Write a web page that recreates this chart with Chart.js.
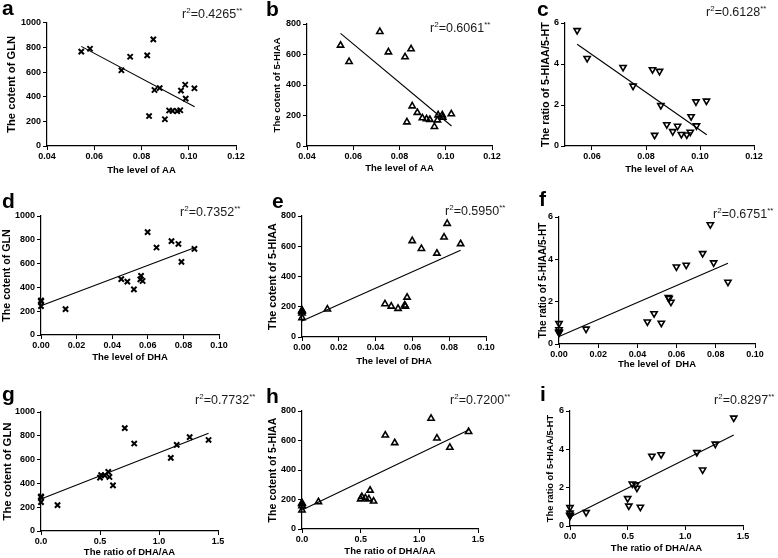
<!DOCTYPE html>
<html>
<head>
<meta charset="utf-8">
<script src="https://cdn.jsdelivr.net/npm/chart.js@4.4.1/dist/chart.umd.min.js"></script>
<style>
  body { margin: 0; background: #fff; width: 778px; height: 558px; position: relative; overflow: hidden;
         font-family: "Liberation Sans", Arial, sans-serif; }
  canvas { position: absolute; }
  .letter { position: absolute; font-weight: bold; font-size: 21px; line-height: 1; color: #000; }
  .r2 { position: absolute; font-size: 12.5px; line-height: 1; color: #1a1a1a; white-space: nowrap; }
  .r2 sup { font-size: 8px; line-height: 0; vertical-align: 5px; }
</style>
</head>
<body>
<script>
// one entry per sample (18 samples)
const AA     = [0.0545, 0.0582, 0.0715, 0.0752, 0.0824, 0.0832, 0.0850, 0.0855, 0.0877, 0.0899, 0.0917, 0.0931, 0.0951, 0.0964, 0.0967, 0.0985, 0.0987, 0.1024];
const DHA    = [0.0772, 0.0733, 0.0789, 0.0862, 0.0649, 0, 0.0599, 0.0571, 0.0451, 0.0138, 0, 0, 0, 0, 0.0485, 0.0562, 0.0522, 0.0558];
const DHA_AA = [1.42, 1.26, 1.10, 1.15, 0.79, 0, 0.71, 0.58, 0.51, 0.14, 0, 0, 0, 0, 0.50, 0.57, 0.61, 0.54];
const GLN    = [765, 789, 614, 724, 735, 243, 865, 454, 470, 217, 288, 285, 283, 290, 449, 497, 384, 468];
const HIAA   = [660, 553, 750, 616, 584, 157, 636, 262, 219, 184, 177, 173, 127, 170, 203, 203, 188, 210];
const RATIO  = [5.64, 4.28, 3.84, 2.93, 3.73, 0.53, 3.65, 1.98, 1.05, 0.71, 0.97, 0.57, 0.55, 0.68, 1.44, 2.16, 0.99, 2.20];

// regression line ends
const FIT_X_AA = [0.0545, 0.1025];
const FIT_X_DHA = [0, 0.0862];
const FIT_X_DHA_AA = [0, 1.42];
const FIT_A = [808, 319];
const FIT_B = [739, 131];
const FIT_C = [4.96, 0.55];
const FIT_D = [246, 734];
const FIT_E = [106, 573];
const FIT_F = [0.35, 3.82];
const FIT_G = [269, 821];
const FIT_H = [129, 671];
const FIT_I = [0.47, 4.75];

const R2 = ['0.4265', '0.6061', '0.6128', '0.7352', '0.5950', '0.6751', '0.7732', '0.7200', '0.8297'];

// tick labels
const TICKS_AA = [0.04, 0.06, 0.08, 0.10, 0.12];
const TICKS_AA_C = [0.06, 0.08, 0.10, 0.12];
const TICKS_DHA = [0, 0.02, 0.04, 0.06, 0.08, 0.10];
const TICKS_DHA_AA = [0, 0.5, 1.0, 1.5];
const TICKS_GLN = [0, 200, 400, 600, 800, 1000];
const TICKS_HIAA = [0, 200, 400, 600, 800];
const TICKS_RATIO = [0, 2, 4, 6];

Chart.defaults.font.family = '"Liberation Sans", Arial, sans-serif';

const panels = [
  { id: 'a', x: AA, y: GLN, fx: FIT_X_AA, fy: FIT_A, xmin: 0.04, xmax: 0.12, xt: TICKS_AA, xd: 2, yt: TICKS_GLN, yd: 0,
    xtitle: 'The level of AA', ytitle: 'The cotent of GLN', mark: 'x', yfs: 11.2,
    L: 47, T: 22.7, R: 236, B: 146, ytx: 12, xty: 170, lx: 2, lb: 15, rx: 182, rb: 19 },
  { id: 'b', x: AA, y: HIAA, fx: FIT_X_AA, fy: FIT_B, xmin: 0.04, xmax: 0.12, xt: TICKS_AA, xd: 2, yt: TICKS_HIAA, yd: 0,
    xtitle: 'The level of AA', ytitle: 'The cotent of 5-HIAA', mark: 'up', yfs: 9.6,
    L: 307, T: 24, R: 492, B: 146, ytx: 278, xty: 168, lx: 266, lb: 16, rx: 430, rb: 33 },
  { id: 'c', x: AA, y: RATIO, fx: FIT_X_AA, fy: FIT_C, xmin: 0.05, xmax: 0.12, xt: TICKS_AA_C, xd: 2, yt: TICKS_RATIO, yd: 0,
    xtitle: 'The level of AA', ytitle: 'The ratio of 5-HIAA/5-HT', mark: 'down', yfs: 10.8,
    L: 565, T: 23, R: 754, B: 146, ytx: 546, xty: 169, lx: 537, lb: 16, rx: 706, rb: 17 },
  { id: 'd', x: DHA, y: GLN, fx: FIT_X_DHA, fy: FIT_D, xmin: 0, xmax: 0.10, xt: TICKS_DHA, xd: 2, yt: TICKS_GLN, yd: 0,
    xtitle: 'The level of DHA', ytitle: 'The cotent of GLN', mark: 'x', yfs: 10.7,
    L: 41, T: 216, R: 219, B: 335, ytx: 7, xty: 357, lx: 2, lb: 208, rx: 180, rb: 217 },
  { id: 'e', x: DHA, y: HIAA, fx: FIT_X_DHA, fy: FIT_E, xmin: 0, xmax: 0.10, xt: TICKS_DHA, xd: 2, yt: TICKS_HIAA, yd: 0,
    xtitle: 'The level of DHA', ytitle: 'The cotent of 5-HIAA', mark: 'up', yfs: 10.8,
    L: 302, T: 216, R: 486, B: 337, ytx: 273, xty: 361, lx: 272, lb: 208, rx: 445, rb: 216 },
  { id: 'f', x: DHA, y: RATIO, fx: FIT_X_DHA, fy: FIT_F, xmin: 0, xmax: 0.10, xt: TICKS_DHA, xd: 2, yt: TICKS_RATIO, yd: 0,
    xtitle: 'The level of  DHA', ytitle: 'The ratio of 5-HIAA/5-HT', mark: 'down', yfs: 10,
    L: 559, T: 217, R: 755, B: 344, ytx: 543, xty: 364, lx: 539, lb: 206, rx: 713, rb: 219 },
  { id: 'g', x: DHA_AA, y: GLN, fx: FIT_X_DHA_AA, fy: FIT_G, xmin: 0, xmax: 1.5, xt: TICKS_DHA_AA, xd: 1, yt: TICKS_GLN, yd: 0,
    xtitle: 'The ratio of DHA/AA', ytitle: 'The cotent of GLN', mark: 'x', yfs: 11.3,
    L: 41, T: 412, R: 218, B: 531, ytx: 8, xty: 552, lx: 2, lb: 401, rx: 195, rb: 405 },
  { id: 'h', x: DHA_AA, y: HIAA, fx: FIT_X_DHA_AA, fy: FIT_H, xmin: 0, xmax: 1.5, xt: TICKS_DHA_AA, xd: 1, yt: TICKS_HIAA, yd: 0,
    xtitle: 'The ratio of DHA/AA', ytitle: 'The cotent of 5-HIAA', mark: 'up', yfs: 10.6,
    L: 302, T: 411, R: 478, B: 529, ytx: 273, xty: 551, lx: 266, lb: 403, rx: 450, rb: 405 },
  { id: 'i', x: DHA_AA, y: RATIO, fx: FIT_X_DHA_AA, fy: FIT_I, xmin: 0, xmax: 1.5, xt: TICKS_DHA_AA, xd: 1, yt: TICKS_RATIO, yd: 0,
    xtitle: 'The ratio of DHA/AA', ytitle: 'The ratio of 5-HIAA/5-HT', mark: 'down', yfs: 9.3,
    L: 570, T: 411, R: 743, B: 526, ytx: 551, xty: 548, lx: 540, lb: 401, rx: 714, rb: 405 },
];

function markerStyle(mark) {
  if (mark === 'x') return { pointStyle: 'crossRot', pointRadius: 3.7, pointBorderWidth: 2, pointRotation: 0 };
  return { pointStyle: 'triangle', pointRadius: 3.6, pointBorderWidth: 1.6, pointRotation: mark === 'down' ? 180 : 0 };
}

function drawPanel(p, idx) {
  const half = p.yfs * 0.6;
  const left = Math.round(p.ytx - half);
  const top = Math.round(p.T - 10);
  const w = Math.round(p.R + 16 - left);
  const h = Math.round(p.xty + 5.7 - top);
  const yW = p.L - left;
  const xH = top + h - p.B;

  const cv = document.createElement('canvas');
  cv.width = w; cv.height = h;
  cv.style.left = left + 'px'; cv.style.top = top + 'px';
  document.body.appendChild(cv);

  const pts = p.x.map((v, i) => ({ x: v, y: p.y[i] }));
  const fit = p.fx.map((v, i) => ({ x: v, y: p.fy[i] }));
  const tickFont = { size: 9, weight: 'bold' };

  new Chart(cv, {
    type: 'scatter',
    data: {
      datasets: [
        Object.assign({
          data: pts,
          borderColor: '#000',
          backgroundColor: 'rgba(0,0,0,0)',
          pointBorderColor: '#000',
          pointBackgroundColor: 'rgba(0,0,0,0)',
          clip: false
        }, markerStyle(p.mark)),
        {
          data: fit,
          showLine: true,
          borderColor: '#000',
          borderWidth: 1.1,
          pointRadius: 0,
          clip: false
        }
      ]
    },
    options: {
      responsive: false,
      animation: false,
      events: [],
      layout: { padding: { top: p.T - top, right: left + w - p.R, bottom: 0, left: 0 } },
      plugins: { legend: { display: false }, tooltip: { enabled: false } },
      scales: {
        x: {
          type: 'linear', min: p.xmin, max: p.xmax,
          afterBuildTicks: s => { s.ticks = p.xt.map(v => ({ value: v })); },
          afterFit: s => { s.height = xH; },
          border: { color: '#000', width: 1.2 },
          grid: { drawOnChartArea: false, drawTicks: true, tickLength: 4, color: '#000' },
          ticks: { color: '#000', font: tickFont, padding: 1, maxRotation: 0, autoSkip: false,
                   callback: v => Number(v).toFixed(p.xd) },
          title: { display: true, text: p.xtitle, color: '#000', font: { size: 9.5, weight: 'bold' }, padding: 0 }
        },
        y: {
          type: 'linear', min: p.yt[0], max: p.yt[p.yt.length - 1],
          afterBuildTicks: s => { s.ticks = p.yt.map(v => ({ value: v })); },
          afterFit: s => { s.width = yW; },
          border: { color: '#000', width: 1.2 },
          grid: { drawOnChartArea: false, drawTicks: true, tickLength: 4, color: '#000' },
          ticks: { color: '#000', font: tickFont, padding: 2, autoSkip: false,
                   callback: v => Number(v).toFixed(p.yd) },
          title: { display: true, text: p.ytitle, color: '#000', font: { size: p.yfs, weight: 'bold' }, padding: 0 }
        }
      }
    }
  });

  const letter = document.createElement('div');
  letter.className = 'letter';
  letter.textContent = p.id;
  letter.style.left = p.lx + 'px';
  letter.style.top = (p.lb - 17.8) + 'px';
  document.body.appendChild(letter);

  const r2 = document.createElement('div');
  r2.className = 'r2';
  r2.innerHTML = 'r<sup>2</sup>=' + R2[idx] + '<sup>**</sup>';
  r2.style.left = p.rx + 'px';
  r2.style.top = (p.rb - 10.6) + 'px';
  document.body.appendChild(r2);
}

panels.forEach(drawPanel);
</script>
</body>
</html>
